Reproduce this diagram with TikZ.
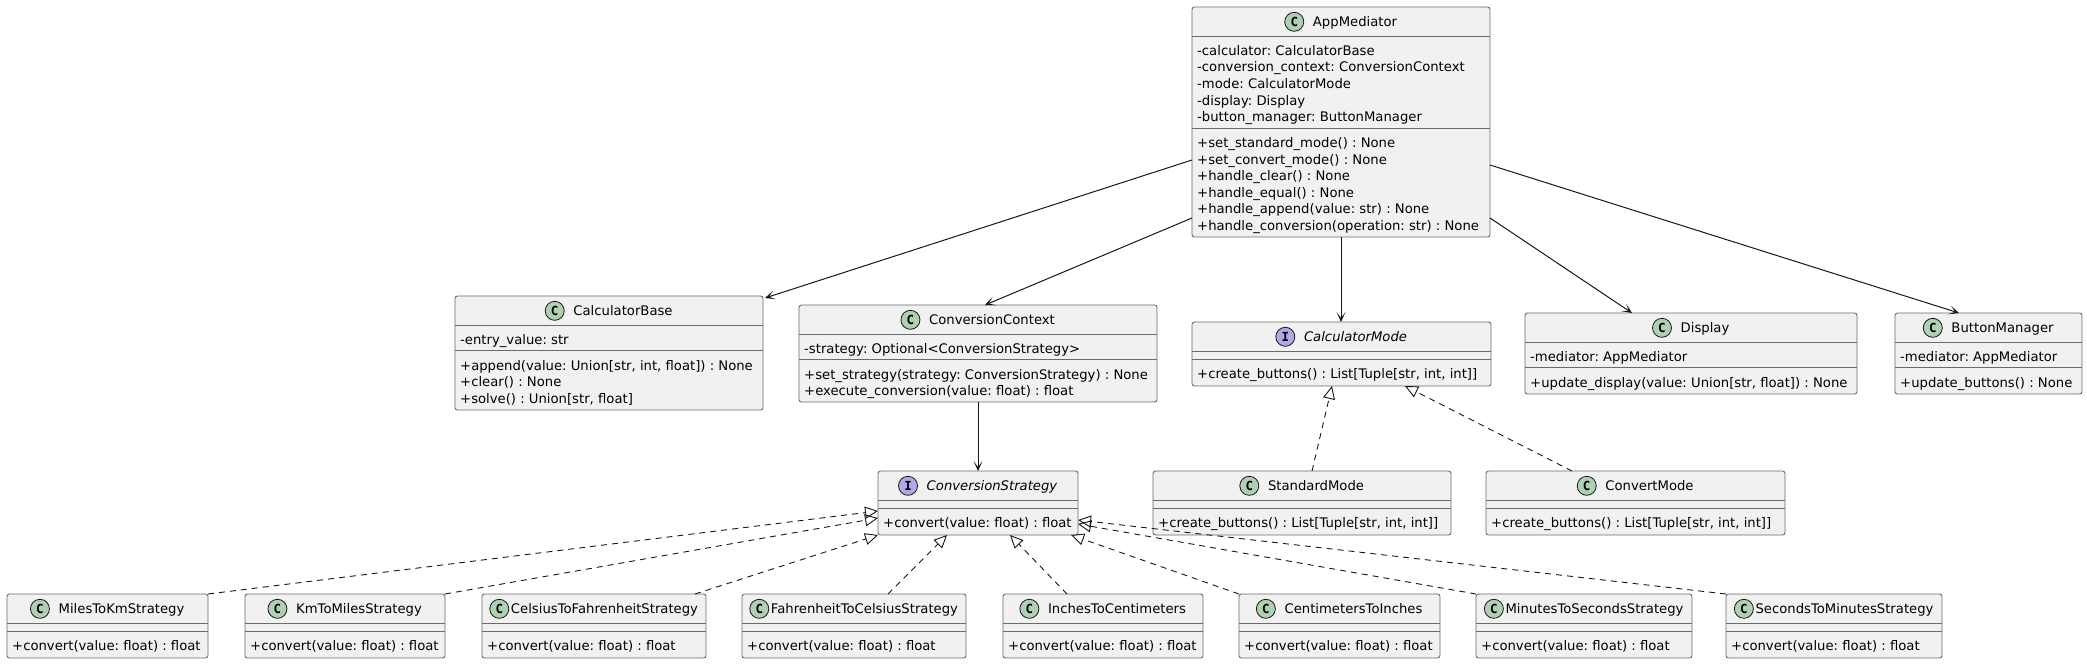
\documentclass[tikz,border=0pt]{standalone}
\usepackage{fontspec}
\setmainfont{DejaVu Sans}
\newfontfamily\iconfont{DejaVu Sans Mono}
\usetikzlibrary{arrows.meta,calc}
\frenchspacing
\definecolor{boxfill}{HTML}{F1F1F1}
\definecolor{boxline}{HTML}{6A6A6A}
\definecolor{lineblk}{HTML}{181818}
\definecolor{cgreen}{HTML}{ADD1B2}
\definecolor{ipurple}{HTML}{B4A7E5}
\tikzset{
 classbox/.style={draw=boxline, fill=boxfill, line width=0.9pt, rounded corners=2.5pt, inner sep=0pt, outer sep=0pt},
 sepline/.style={draw=boxline, line width=0.9pt},
 members/.style={font=\frenchspacing\fontsize{13.2}{16.57}\selectfont, align=left, inner sep=0pt, anchor=north west},
 titletext/.style={font=\fontsize{13.2}{16.57}\selectfont, inner sep=0pt, anchor=base},
 ititle/.style={titletext, font=\fontsize{13.2}{16.57}\selectfont\itshape},
 icon/.style={circle, draw=lineblk, line width=0.8pt, minimum size=19pt, inner sep=0pt, font=\iconfont\bfseries\fontsize{12.5}{14}\selectfont},
 iconC/.style={icon, fill=cgreen},
 iconI/.style={icon, fill=ipurple},
 assoc/.style={draw=lineblk, line width=1pt, -{Stealth[length=10pt,width=9pt,inset=6pt]}},
 realize/.style={draw=lineblk, line width=0.9pt, dash pattern=on 6pt off 5pt, -{Triangle[open,length=13pt,width=12pt,line width=0.9pt]}},
}
% box: name, x1, y1, x2, y2
\newcommand\cbox[5]{\node[classbox,anchor=north west,minimum width={(#4-#2)*1pt},minimum height={(#5-#3)*1pt}] (#1) at (#2,#3) {};}
% separator: name, offset from top
\newcommand\csep[2]{\draw[sepline] ($(#1.north west)+(0,#2)$) -- ($(#1.north east)+(0,#2)$);}
% title: name, title style, icon style, letter, text, gap
\newcommand\ctitle[6]{%
 \node[#2] (#1-t) at ($(#1.north)+({(19+#6)/2},19.3)$) {#5};
 \node[#3] (#1-i) at ($(#1-t.base west)+({-#6-9.5},-4.5)$) {#4};}
% members: name, suffix, offset of separator, text
\newcommand\cmem[4]{\node[members] (#1-#2) at ($(#1.north west)+(5,#3+7.5)$) {#4};}
\begin{document}
\begin{tikzpicture}[x=1pt,y=-1pt]
\fill[white] (0,0) rectangle (2087,665);
\useasboundingbox (0,0) rectangle (2087,665);

% AppMediator
\cbox{app}{1192}{7}{1490}{237}
\csep{app}{29}\csep{app}{121.15}
\ctitle{app}{titletext}{iconC}{C}{AppMediator}{9}
\cmem{app}{a}{29}{\strut -calculator: CalculatorBase\\\strut -conversion\_context: ConversionContext\\\strut -mode: CalculatorMode\\\strut -display: Display\\\strut -button\_manager: ButtonManager}
\cmem{app}{m}{121.15}{\strut +set\_standard\_mode() : None\\\strut +set\_convert\_mode() : None\\\strut +handle\_clear() : None\\\strut +handle\_equal() : None\\\strut +handle\_append(value: str) : None\\\strut +handle\_conversion(operation: str) : None}

% CalculatorBase
\cbox{calcbase}{455}{296}{763}{410}
\csep{calcbase}{29}\csep{calcbase}{54.87}
\ctitle{calcbase}{titletext}{iconC}{C}{CalculatorBase}{9}
\cmem{calcbase}{a}{29}{\strut -entry\_value: str}
\cmem{calcbase}{m}{54.87}{\strut +append(value: Union[str, int, float]) : None\\\strut +clear() : None\\\strut +solve() : Union[str, float]}

% ConversionContext
\cbox{convctx}{799}{305}{1157}{402}
\csep{convctx}{29}\csep{convctx}{54.87}
\ctitle{convctx}{titletext}{iconC}{C}{ConversionContext}{9}
\cmem{convctx}{a}{29}{\strut -strategy: Optional<ConversionStrategy>}
\cmem{convctx}{m}{54.87}{\strut +set\_strategy(strategy: ConversionStrategy) : None\\\strut +execute\_conversion(value: float) : float}

% CalculatorMode
\cbox{calcmode}{1192}{322}{1491}{386}
\csep{calcmode}{29}\csep{calcmode}{37.5}
\ctitle{calcmode}{ititle}{iconI}{I}{CalculatorMode}{9}
\cmem{calcmode}{m}{37.5}{\strut +create\_buttons() : List[Tuple[str, int, int]]}

% Display
\cbox{display}{1525}{313}{1857}{394}
\csep{display}{29}\csep{display}{54.87}
\ctitle{display}{titletext}{iconC}{C}{Display}{9}
\cmem{display}{a}{29}{\strut -mediator: AppMediator}
\cmem{display}{m}{54.87}{\strut +update\_display(value: Union[str, float]) : None}

% ButtonManager
\cbox{btn}{1895}{313}{2082}{394}
\csep{btn}{29}\csep{btn}{54.87}
\ctitle{btn}{titletext}{iconC}{C}{ButtonManager}{9}
\cmem{btn}{a}{29}{\strut -mediator: AppMediator}
\cmem{btn}{m}{54.87}{\strut +update\_buttons() : None}

% StandardMode
\cbox{std}{1153}{471}{1451}{535}
\csep{std}{29}\csep{std}{37.5}
\ctitle{std}{titletext}{iconC}{C}{StandardMode}{9}
\cmem{std}{m}{37.5}{\strut +create\_buttons() : List[Tuple[str, int, int]]}

% ConvertMode
\cbox{convmode}{1486}{471}{1785}{535}
\csep{convmode}{29}\csep{convmode}{37.5}
\ctitle{convmode}{titletext}{iconC}{C}{ConvertMode}{9}
\cmem{convmode}{m}{37.5}{\strut +create\_buttons() : List[Tuple[str, int, int]]}

% ConversionStrategy
\cbox{convstrat}{878}{471}{1078}{535}
\csep{convstrat}{29}\csep{convstrat}{37.5}
\ctitle{convstrat}{ititle}{iconI}{I}{ConversionStrategy}{9}
\cmem{convstrat}{m}{37.5}{\strut +convert(value: float) : float}

% bottom row
\cbox{mtk}{7}{594}{208}{658}
\cbox{ktm}{245}{594}{445}{658}
\cbox{ctf}{482}{594}{706}{658}
\cbox{ftc}{742}{594}{966}{658}
\cbox{itc}{1003}{594}{1203}{658}
\cbox{cti}{1239}{594}{1440}{658}
\cbox{mts}{1476}{594}{1692}{658}
\cbox{stm}{1726}{594}{1942}{658}
\foreach \n in {mtk,ktm,ctf,ftc,itc,cti,mts,stm}{
 \csep{\n}{29}\csep{\n}{37.5}
 \cmem{\n}{m}{37.5}{\strut +convert(value: float) : float}
}
\ctitle{mtk}{titletext}{iconC}{C}{MilesToKmStrategy}{9}
\ctitle{ktm}{titletext}{iconC}{C}{KmToMilesStrategy}{9}
\ctitle{ctf}{titletext}{iconC}{C}{CelsiusToFahrenheitStrategy}{2}
\ctitle{ftc}{titletext}{iconC}{C}{FahrenheitToCelsiusStrategy}{2}
\ctitle{itc}{titletext}{iconC}{C}{InchesToCentimeters}{9}
\ctitle{cti}{titletext}{iconC}{C}{CentimetersToInches}{9}
\ctitle{mts}{titletext}{iconC}{C}{MinutesToSecondsStrategy}{2}
\ctitle{stm}{titletext}{iconC}{C}{SecondsToMinutesStrategy}{2}

% associations
\draw[assoc] ($(app.north west)+(0,153)$) -- ($(calcbase.north east)+(2,2)$);
\draw[assoc] ($(app.north west)+(0,211)$) -- ($(convctx.north west)+(186,0)$);
\draw[assoc] (app.south) -- (app.south |- calcmode.north);
\draw[assoc] ($(app.north east)+(0,211)$) -- ($(display.north west)+(107,0)$);
\draw[assoc] ($(app.north east)+(0,158)$) -- ($(btn.north west)+(64,0)$);
\draw[assoc] (convctx.south) -- (convstrat.north);

% realizations
\draw[realize] ($(std.north west)+(159,0)$) -- ($(calcmode.south west)+(140,0)$);
\draw[realize] ($(convmode.north west)+(86,0)$) -- ($(calcmode.south west)+(213,0)$);
\draw[realize] (mtk.north east) -- ($(convstrat.north west)+(0,40)$);
\draw[realize] (ktm.north east) -- ($(convstrat.north west)+(0,47)$);
\draw[realize] ($(ctf.north east)+(-11,0)$) -- (convstrat.south west);
\draw[realize] ($(ftc.north west)+(146,0)$) -- ($(convstrat.south west)+(69,0)$);
\draw[realize] ($(itc.north west)+(64,0)$) -- ($(convstrat.south west)+(132,0)$);
\draw[realize] (cti.north west) -- ($(convstrat.south west)+(193,0)$);
\draw[realize] (mts.north west) -- ($(convstrat.north east)+(0,53)$);
\draw[realize] (stm.north west) -- ($(convstrat.north east)+(0,49)$);
\end{tikzpicture}
\end{document}
